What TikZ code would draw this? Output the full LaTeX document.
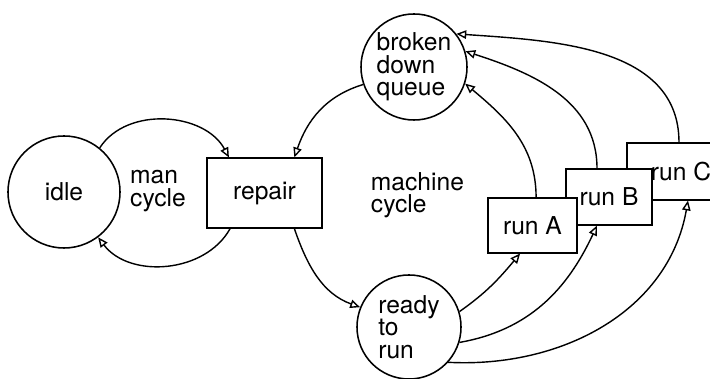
\documentclass[tikz,border=0pt]{standalone}
\usepackage{fontspec}
\setmainfont{TeX Gyre Heros}
\usetikzlibrary{arrows.meta}

\begin{document}
\begin{tikzpicture}[x=0.025cm, y=0.025cm,
        font=\fontsize{17.5}{16}\selectfont,
        state/.style={shape=circle, draw, line width=1.1pt, inner sep=0pt, align=left},
        task/.style={shape=rectangle, draw, fill=white, line width=0.8pt, inner sep=0pt},
        flow/.style={line width=1pt, -{Triangle[open, length=7pt, width=6pt]}}]
        \clip (0, 0) rectangle (710, 379);

        % man cycle
        \node[state, minimum size=2.8cm] (idle) at (64, 187) {idle};
        \node[task, minimum width=2.875cm, minimum height=1.75cm] (repair) at (264.5, 186) {repair};
        \node[align=left] (mancycle) at (158, 188) {man\\cycle};

        % machine cycle
        \node[state, minimum size=2.65cm] (queue) at (414, 312) {broken\\down\\queue};
        \node[state, minimum size=2.6cm] (ready) at (409, 52) {ready\\to\\run};
        \node[align=left, anchor=west] (machcycle) at (366, 184) {machine\\cycle};

        % run boxes, stacked back to front
        \node[task, minimum width=2.7cm, minimum height=1.425cm] (runC) at (681, 207.5) {run C};
        \node[task, minimum width=2.15cm, minimum height=1.4cm] (runB) at (609, 182) {run B};
        \node[task, minimum width=2.225cm, minimum height=1.375cm] (runA) at (532.5, 153.5) {run A};

        \draw[flow] (idle.51) to[out=57, in=118] (repair.135);
        \draw[flow] (repair.226) to[out=241, in=307] (idle.-53);
        \draw[flow] (queue.199) to[out=197, in=71] (repair.50);
        \draw[flow] (repair.-50) to[out=-71, in=160] (ready.158);

        \draw[flow] ([xshift=0.09cm]runA.north) to[out=90, in=-40] (queue.-18);
        \draw[flow] ([xshift=-0.3cm]runB.north) to[out=90, in=-18] (queue.17);
        \draw[flow] ([xshift=-0.05cm]runC.north) to[out=90, in=-4] (queue.38);

        \draw[flow] (ready.17) to[out=35, in=-130] ([xshift=-0.31cm]runA.south);
        \draw[flow] (ready.-17) to[out=10, in=-115] ([xshift=-0.3cm]runB.south);
        \draw[flow] (ready.-42) to[out=-3, in=-100] ([xshift=0.175cm]runC.south);
    \end{tikzpicture}
\end{document}
